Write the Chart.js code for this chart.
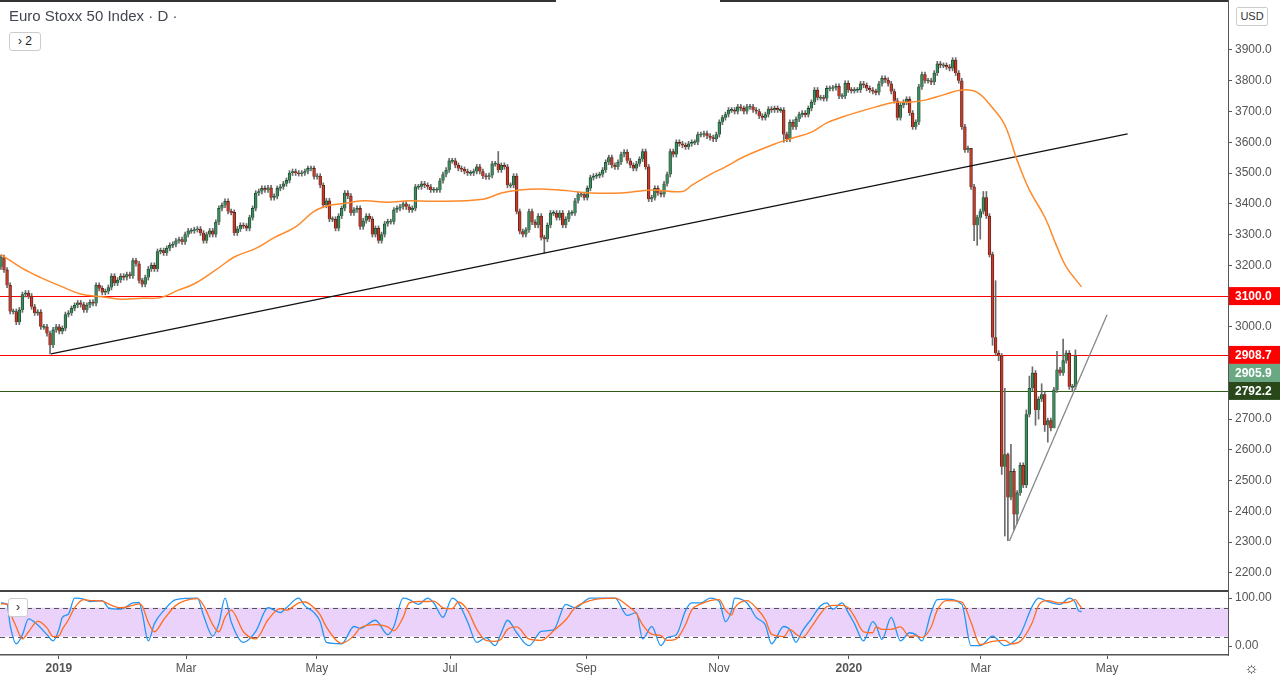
<!DOCTYPE html>
<html><head><meta charset="utf-8">
<script src="https://cdn.jsdelivr.net/npm/chart.js@4.4.1/dist/chart.umd.min.js"></script>
<style>
html,body{margin:0;padding:0;background:#fff;width:1280px;height:680px;overflow:hidden;font-family:"Liberation Sans",Arial,sans-serif}
#c1{position:absolute;left:0;top:0}
#c2{position:absolute;left:0;top:590px}
#title{position:absolute;left:9px;top:7px;font-size:15px;color:#434651}
#btn{position:absolute;left:9px;top:32px;width:30px;height:17px;border:1px solid #ccc;border-radius:3px;font-size:12px;color:#222;line-height:17px;text-align:center;background:#fff}
#btn2{position:absolute;left:8px;top:598px;width:18px;height:17px;border:1px solid #ccc;border-radius:3px;font-size:12px;color:#222;line-height:16px;text-align:center;background:#fff}
#usd{position:absolute;left:1236px;top:7px;width:30px;height:17px;border:1px solid #ccc;border-radius:2px;font-size:11px;color:#333;line-height:17px;text-align:center;background:#fff}
#top1{position:absolute;left:0;top:0;width:556px;height:2px;background:#333}
#top2{position:absolute;left:720px;top:0;width:508px;height:2px;background:#333}
#gear{position:absolute;left:1244px;top:659px;font-size:16px;color:#333}
</style></head><body>
<canvas id="c1" width="1280" height="590"></canvas>
<canvas id="c2" width="1280" height="90"></canvas>
<div id="top1"></div><div id="top2"></div>
<div id="title">Euro Stoxx 50 Index · D ·</div>
<div id="btn">&#8250; 2</div>
<div id="btn2">&#8250;</div>
<div id="usd">USD</div>
<div id="gear">&#9788;</div>
<script>
// ---------- DATA ----------
const closes = [
3225,3185,3135,3050,3050,3015,3055,3105,3110,3100, 3065,3045,3048,3000,3000,2978,2940,2990,3000,2985,
2995,3040,3045,3060,3070,3078,3072,3055,3070,3080, 3076,3135,3125,3112,3115,3128,3165,3142,3152,3165,
3160,3170,3165,3215,3205,3150,3138,3160,3188,3200, 3188,3245,3248,3240,3255,3265,3268,3280,3284,3276,
3300,3312,3312,3316,3318,3305,3280,3300,3312,3300, 3340,3385,3395,3408,3375,3372,3305,3318,3330,3328,
3320,3355,3385,3435,3440,3450,3445,3452,3420,3424, 3450,3455,3465,3476,3500,3505,3500,
3498,3500,3505,3515,3515,3488,3490,3460,3395,3410, 3350,3350,3320,3360,3385,3435,3425,3370,3380,3385,
3325,3345,3360,3350,3300,3320,3280,3300,3335,3342, 3342,3380,3385,3390,3400,3390,3380,3385,3455,3455,
3465,3460,3455,3445,3445,3445,3475,3495,3510,3540, 3540,3525,3515,3512,3505,3500,3500,3505,3520,3505,
3490,3487,3492,3530,3530,3510,3525,3520,3460,3460, 3490,3375,3310,3300,3315,3375,3340,3330,3360,3290,
3285,3330,3370,3370,3355,3370,3330,3350,3370,3370, 3410,3430,3430,3420,3450,3485,3490,3492,3495,3510,
3535,3550,3525,3520,3535,3560,3568,3540,3525,3515, 3530,3545,3570,3520,3415,3420,3450,3435,3430,3465,
3495,3570,3560,
3600,3595,3590,3585,3595,3600,3600,3625,3625,3628, 3620,3615,3610,3625,3665,3680,3690,3705,3705,3700,
3715,3710,3700,3715,3715,3705,3700,3685,3680,3690, 3708,3705,3710,3705,3705,3625,3610,3665,3650,3675,
3690,3695,3690,3710,3730,3770,3745,3745,3742,3775, 3775,3777,3782,3750,3750,3792,3770,3768,3770,3770,
3790,3785,3775,3770,3765,3762,3790,3808,3802,3790, 3765,3735,3680,3720,3730,3740,3695,3650,3665,3780,
3820,3800,3800,3795,3825,3855,3850,3850,3845,3840, 3867,3825,3800,
3650,3575,3580,3455,3330,3355,3375,3420,3360,3235, 2965,2915,2905,2545,2585,2445,2530,2390,2460,2550,
2485,2715,2800,2850,2730,2765,2780,2680,2695,2670, 2795,2860,2850,2890,2915,2805,2805,2905.9
];
const firstOpen = 3195;
const highWicks = [[162,3570],[316,3480],[320,3440],[321,3440],[324,3150],[327,2800],[328,2590],[329,2618],[334,2730],[335,2840],[336,2870],[339,2815],[344,2920],[346,2960],[350,2925]];
const lowWicks = [[16,2912],[177,3240],[255,3600],[317,3280],[318,3265],[319,3285],[323,2940],[325,2890],[326,2520],[327,2320],[328,2305],[330,2340],[331,2360],[337,2680],[338,2700],[340,2660],[341,2625],[343,2700],[349,2790]];
const maIdx = [0,7,13,20,26,33,39,46,52,58,63,70,76,83,89,96,102,107,111,118,126,133,141,157,163,169,176,185,192,202,212,222,225,231,236,242,253,258,264,269,274,285,291,296,301,307,313,318,323,327,331,335,340,344,347,352];
const maVal = [3235,3190,3160,3130,3107,3098,3090,3093,3095,3120,3140,3185,3227,3255,3290,3325,3375,3395,3400,3410,3405,3410,3408,3415,3435,3445,3448,3442,3435,3435,3445,3440,3460,3495,3520,3553,3598,3614,3633,3663,3682,3715,3730,3730,3737,3754,3770,3762,3712,3656,3542,3445,3357,3260,3195,3130];
const trendMain = [[16.3,2912],[367,3627]];
const trendRise = [[328.5,2304],[360.3,3039]];
const hLines = [{v:3100,c:'#ff0000'},{v:2908.7,c:'#ff0000'},{v:2792.2,c:'#2e5a12'}];
const priceTags = [{v:3100,t:'3100.0',bg:'#ff0000'},{v:2908.7,t:'2908.7',bg:'#ff0000'},{v:2905.9,t:'2905.9',bg:'#6aa884'},{v:2792.2,t:'2792.2',bg:'#28481a'}];
const yTicks = [2200,2300,2400,2500,2600,2700,2800,2900,3000,3100,3200,3300,3400,3500,3600,3700,3800,3900];
const monthIdx = [18.9,60.3,102.9,146.3,190.6,233.9,276.2,319.2,360.3];
const monthLbl = ['2019','Mar','May','Jul','Sep','Nov','2020','Mar','May'];
const stochIdx = [0,2,3,5,7,9,12,15,17,19, 20,22,24,27,29,33,35,39,43,45, 46,48,50,53,57,64,66,69,71,73,
75,79,83,87,91,93,97,99,102,104, 106,111,115,117,122,126,128,131,133,136, 139,141,144,147,149,152,155,158,161,163,
165,168,172,176,180,184,187,192,200,204, 207,209,212,215,217,220,223,225,228,231, 234,236,238,239,243,246,249,251,255,257,
259,261,264,267,269,271,274,276,278,281, 284,285,287,290,293,296,298,300,303,305, 308,313,316,319,323,327,329,332,336,338,
341,345,348,350,351,352];
const stochK = [90,87,44,5,24,57,44,24,11,37, 60,67,100,98,93,95,80,77,90,91, 70,11,47,74,97,100,64,21,47,100,
51,8,31,80,70,80,100,84,70,51, 8,5,41,37,54,24,41,100,97,87, 100,90,60,100,90,51,8,18,1,28,
54,28,1,31,34,87,80,100,100,64, 70,15,41,1,18,24,74,90,90,100, 93,51,74,100,90,60,44,5,41,34,
8,31,57,84,90,77,90,70,47,11, 51,44,14,60,11,28,24,11,70,97, 98,87,1,1,21,1,5,24,84,100,
93,87,100,90,74,72];
const stochD = [88,88,70,40,15,30,52,38,20,22, 35,55,80,97,95,94,88,80,85,88, 84,50,30,55,85,99,85,45,30,60,
75,30,15,55,78,75,90,92,80,65, 40,6,22,38,45,40,32,60,90,93, 93,94,80,78,92,75,35,12,10,15,
35,40,15,12,32,55,80,95,100,85, 68,45,25,22,12,15,45,75,88,95, 97,75,65,80,95,80,55,25,20,35,
25,18,40,68,82,85,85,80,62,30, 28,40,35,35,40,20,22,18,40,75, 95,92,50,3,10,12,5,10,50,85,
95,90,92,97,88,80];

// ---------- BUILD ----------
const N = closes.length;
const opens = closes.map((c,i)=> i===0 ? firstOpen : closes[i-1]);
const highs = closes.map((c,i)=> Math.max(c,opens[i]) + 8);
const lows = closes.map((c,i)=> Math.min(c,opens[i]) - 8);
highWicks.forEach(([i,v])=>{ if(i<N) highs[i]=v; });
lowWicks.forEach(([i,v])=>{ if(i<N) lows[i]=v; });
const up = closes.map((c,i)=> c>=opens[i]);
const wickData = closes.map((c,i)=>({x:i,y:[lows[i],highs[i]]}));
const bodyData = closes.map((c,i)=>{let a=Math.min(c,opens[i]),b=Math.max(c,opens[i]); if(b-a<4){const m=(a+b)/2;a=m-2;b=m+2;} return {x:i,y:[a,b]};});

const XMIN = -0.3, XMAX = 1228/3.07 - 0.3;
const AXW = 52;
const fitY = s=>{s.width=AXW;s.paddingTop=0;s.paddingBottom=0;};
const fitX = (h)=>s=>{s.height=h;s.paddingLeft=0;s.paddingRight=0;};

const mainPlugin = {
  id:'mainExtras',
  beforeDatasetsDraw(ch){
    const {ctx, chartArea:a, scales:{y}} = ch;
    ctx.save();
    hLines.forEach(h=>{const py=Math.round(y.getPixelForValue(h.v))+0.5;ctx.strokeStyle=h.c;ctx.lineWidth=1;ctx.beginPath();ctx.moveTo(0,py);ctx.lineTo(a.right,py);ctx.stroke();});
    ctx.restore();
  },
  afterDraw(ch){
    const {ctx, chartArea:a, scales:{y}} = ch;
    ctx.save();
    const tags = priceTags.map(t=>({...t,py:y.getPixelForValue(t.v)})).sort((p,q)=>p.py-q.py);
    let last=-100;
    tags.forEach(t=>{ if(t.py<last+18) t.py=last+18; last=t.py;
      ctx.fillStyle=t.bg; ctx.fillRect(a.right+1,t.py-9,AXW,18);
      ctx.fillStyle='#fff'; ctx.font='bold 12px "Liberation Sans",Arial'; ctx.textBaseline='middle'; ctx.textAlign='left';
      ctx.fillText(t.t,a.right+7,t.py+1);
    });
    ctx.restore();
  }
};

new Chart(document.getElementById('c1'),{
  type:'bar',
  data:{datasets:[
    {type:'line',data:maIdx.map((x,i)=>({x,y:maVal[i]})),borderColor:'#ff8a2b',borderWidth:1.5,pointRadius:0,tension:0.4,order:0},
    {type:'line',data:trendMain.map(([x,y])=>({x,y})),borderColor:'#111',borderWidth:1.3,pointRadius:0,order:0},
    {type:'line',data:trendRise.map(([x,y])=>({x,y})),borderColor:'#888',borderWidth:1.3,pointRadius:0,order:0},
    {data:wickData,backgroundColor:'#6b6b6b',barThickness:1,grouped:false,order:3},
    {data:bodyData,backgroundColor:up.map(u=>u?'#3f8a5e':'#c23c2c'),borderColor:up.map(u=>u?'#1d4a2f':'#5e1c14'),borderWidth:0.8,barThickness:2.8,grouped:false,order:2}
  ]},
  options:{
    responsive:false,animation:false,events:[],
    layout:{padding:0},
    plugins:{legend:{display:false},tooltip:{enabled:false}},
    scales:{
      x:{type:'linear',min:XMIN,max:XMAX,offset:false,display:false,afterFit:fitX(0)},
      y:{position:'right',min:2144.5,max:4062.5,
        afterBuildTicks(s){s.ticks=yTicks.map(v=>({value:v}));},
        afterFit:fitY,
        grid:{drawOnChartArea:false,drawTicks:true,tickLength:4,color:'#555'},
        border:{color:'#555'},
        ticks:{color:'#555',font:{size:12,family:'"Liberation Sans",Arial'},padding:3,callback:v=>v.toFixed(1)}}
    }
  },
  plugins:[mainPlugin]
});

const stochPlugin = {
  id:'stochExtras',
  beforeDatasetsDraw(ch){
    const {ctx, chartArea:a, scales:{y}} = ch;
    ctx.save();
    const y80=y.getPixelForValue(80), y20=y.getPixelForValue(20);
    ctx.fillStyle='#ead2fb'; ctx.fillRect(a.left,y80,a.right-a.left,y20-y80);
    ctx.strokeStyle='#555'; ctx.setLineDash([5,4]); ctx.lineWidth=1;
    [y80,y20].forEach(p=>{ctx.beginPath();ctx.moveTo(a.left,Math.round(p)+0.5);ctx.lineTo(a.right,Math.round(p)+0.5);ctx.stroke();});
    ctx.setLineDash([]); ctx.strokeStyle='#444'; ctx.lineWidth=2;
    ctx.beginPath();ctx.moveTo(0,1);ctx.lineTo(a.right,1);ctx.stroke();
    ctx.restore();
  }
};

new Chart(document.getElementById('c2'),{
  type:'line',
  data:{datasets:[
    {data:stochIdx.map((x,i)=>({x,y:stochD[i]})),borderColor:'#ff6d1f',borderWidth:1.3,pointRadius:0,cubicInterpolationMode:'monotone'},
    {data:stochIdx.map((x,i)=>({x,y:stochK[i]})),borderColor:'#2196f3',borderWidth:1.3,pointRadius:0,cubicInterpolationMode:'monotone'}
  ]},
  options:{
    responsive:false,animation:false,events:[],
    layout:{padding:0},
    plugins:{legend:{display:false},tooltip:{enabled:false}},
    scales:{
      x:{type:'linear',min:XMIN,max:XMAX,offset:false,
        afterBuildTicks(s){s.ticks=monthIdx.map(v=>({value:v}));},
        afterFit:fitX(25),
        grid:{drawOnChartArea:false,drawTicks:true,tickLength:4,color:'#555'},
        border:{color:'#555',width:1.5},
        ticks:{color:'#555',maxRotation:0,autoSkip:false,padding:2,
          font:(c)=>({size:12,family:'"Liberation Sans",Arial',weight:(c.tick&&/^20/.test(monthLbl[c.index]))?'bold':'normal'}),
          callback:(v,i)=>monthLbl[i]}},
      y:{position:'right',min:-18.4,max:117,
        afterBuildTicks(s){s.ticks=[{value:0},{value:100}];},
        afterFit:fitY,
        grid:{drawOnChartArea:false,drawTicks:true,tickLength:4,color:'#555'},
        border:{color:'#555'},
        ticks:{color:'#555',font:{size:12,family:'"Liberation Sans",Arial'},padding:3,callback:v=>v.toFixed(2)}}
    }
  },
  plugins:[stochPlugin]
});
</script>
</body></html>
